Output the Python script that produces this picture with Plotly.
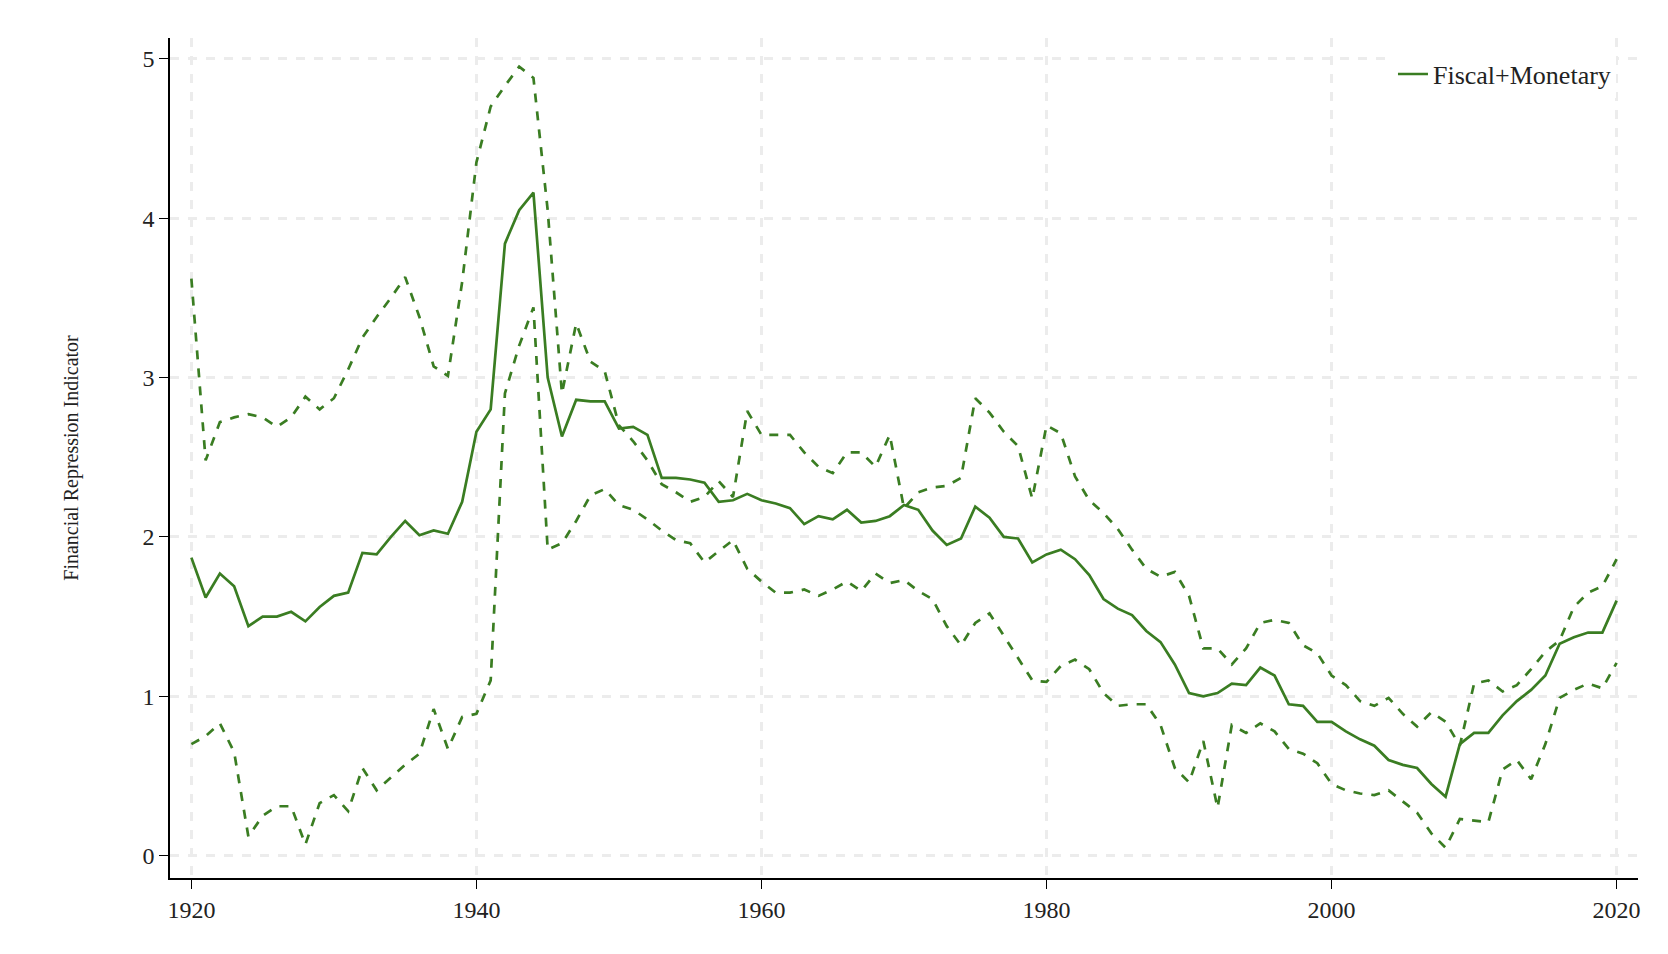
import plotly.graph_objects as go

years = list(range(1920, 2021))
central = [1.87,1.62,1.77,1.69,1.44,1.50,1.50,1.53,1.47,1.56,1.63,1.65,1.90,1.89,2.00,2.10,2.01,2.04,2.02,2.22,
           2.66,2.80,3.84,4.05,4.16,3.00,2.63,2.86,2.85,2.85,2.68,2.69,2.64,2.37,2.37,2.36,2.34,2.22,2.23,2.27,
           2.23,2.21,2.18,2.08,2.13,2.11,2.17,2.09,2.10,2.13,2.20,2.17,2.04,1.95,1.99,2.19,2.12,2.00,1.99,1.84,
           1.89,1.92,1.86,1.76,1.61,1.55,1.51,1.41,1.34,1.20,1.02,1.00,1.02,1.08,1.07,1.18,1.13,0.95,0.94,0.84,
           0.84,0.78,0.73,0.69,0.60,0.57,0.55,0.45,0.37,0.70,0.77,0.77,0.88,0.97,1.04,1.13,1.33,1.37,1.40,1.40,1.60]
upper = [3.62,2.48,2.72,2.75,2.77,2.75,2.69,2.75,2.88,2.80,2.87,3.05,3.25,3.38,3.50,3.63,3.38,3.07,3.01,3.60,
         4.35,4.70,4.83,4.95,4.88,4.05,2.90,3.34,3.10,3.04,2.70,2.60,2.48,2.33,2.28,2.22,2.25,2.35,2.25,2.79,
         2.64,2.64,2.64,2.53,2.44,2.40,2.53,2.53,2.44,2.64,2.18,2.28,2.31,2.32,2.37,2.87,2.78,2.66,2.57,2.24,
         2.70,2.65,2.38,2.23,2.15,2.05,1.92,1.80,1.75,1.78,1.63,1.30,1.30,1.20,1.30,1.46,1.48,1.46,1.32,1.27,
         1.13,1.07,0.97,0.94,0.99,0.89,0.81,0.90,0.84,0.69,1.08,1.10,1.03,1.07,1.17,1.28,1.35,1.56,1.65,1.69,1.86]
lower = [0.70,0.75,0.83,0.65,0.12,0.25,0.31,0.31,0.07,0.33,0.38,0.28,0.55,0.41,0.49,0.57,0.64,0.92,0.67,0.87,
         0.89,1.10,2.90,3.20,3.44,1.92,1.96,2.10,2.26,2.30,2.20,2.17,2.11,2.04,1.98,1.96,1.84,1.91,1.98,1.80,
         1.72,1.65,1.65,1.67,1.63,1.67,1.72,1.66,1.77,1.71,1.73,1.66,1.61,1.44,1.32,1.46,1.52,1.38,1.24,1.10,
         1.09,1.19,1.23,1.17,1.02,0.94,0.95,0.95,0.82,0.55,0.46,0.72,0.30,0.82,0.77,0.83,0.78,0.67,0.64,0.58,
         0.45,0.41,0.39,0.38,0.41,0.34,0.27,0.14,0.05,0.23,0.22,0.21,0.54,0.60,0.48,0.70,0.99,1.04,1.08,1.05,1.21]

green = "#3a7d22"
fig = go.Figure()
fig.add_trace(go.Scatter(x=years, y=upper, mode="lines", line=dict(color=green, width=2.7, dash="dash"), showlegend=False))
fig.add_trace(go.Scatter(x=years, y=lower, mode="lines", line=dict(color=green, width=2.7, dash="dash"), showlegend=False))
fig.add_trace(go.Scatter(x=years, y=central, mode="lines", line=dict(color=green, width=2.7), name="Fiscal+Monetary"))

grid = dict(showgrid=True, gridcolor="#ececec", gridwidth=3, griddash="dash")
fig.update_layout(
    width=1668, height=954, plot_bgcolor="white", paper_bgcolor="white",
    margin=dict(l=162, r=38, t=30, b=84),
    font=dict(family="Liberation Serif", size=24, color="#222"),
    xaxis=dict(range=[1918.5, 2021.5], tickvals=[1920,1940,1960,1980,2000,2020], zeroline=False,
               showline=True, linecolor="black", linewidth=1.5, ticks="outside", ticklen=9, tickcolor="black", **grid),
    yaxis=dict(range=[-0.14, 5.13], tickvals=[0,1,2,3,4,5], zeroline=False,
               showline=True, linecolor="black", linewidth=1.5, ticks="outside", ticklen=9, tickcolor="black",
               title=dict(text="Financial Repression Indicator", font=dict(size=20), standoff=58), **grid),
    legend=dict(x=0.985, y=0.985, xanchor="right", yanchor="top", bgcolor="white", font=dict(size=26)),
)
fig.write_html("out.html")
